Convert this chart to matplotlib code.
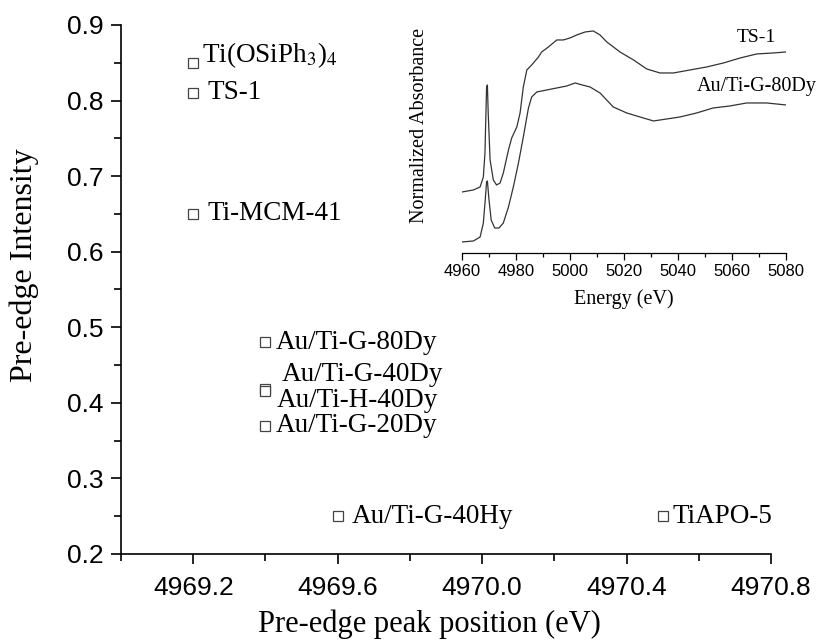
import matplotlib
matplotlib.use('Agg')
import matplotlib.pyplot as plt
from matplotlib.ticker import MultipleLocator

plt.rcParams['mathtext.fontset'] = 'stix'

# pre-edge peak position / intensity of each Ti site
samples = ['Ti(OSiPh$_3$)$_4$', 'TS-1', 'Ti-MCM-41', 'Au/Ti-G-80Dy', 'Au/Ti-G-40Dy',
           'Au/Ti-H-40Dy', 'Au/Ti-G-20Dy', 'Au/Ti-G-40Hy', 'TiAPO-5']
peak_pos = [4969.2, 4969.2, 4969.2, 4969.4, 4969.4, 4969.4, 4969.4, 4969.6, 4970.5]
intensity = [0.85, 0.81, 0.65, 0.48, 0.418, 0.415, 0.37, 0.25, 0.25]
# label offsets in pixels (dx, dy)
label_off = [(9, 8), (14, 0), (14, 0), (10, 0), (16, 15), (11, -9), (10, 0), (14, 0), (10, 0)]

# XANES spectra for the inset (arbitrary units, stacked)
ts1_e = [4960, 4964.2, 4966.7, 4967.9, 4968.5, 4969.1, 4969.4, 4969.7, 4970.4, 4971.6,
         4972.8, 4974.1, 4975.3, 4977.2, 4978.4, 4980.3, 4981.5, 4982.7, 4984, 4985.8,
         4988.3, 4989.5, 4992, 4995.1, 4997.5, 5000, 5002.5, 5005.6, 5008.6, 5011.1,
         5013.6, 5018.5, 5023.5, 5028.4, 5033.3, 5038.3, 5044.4, 5050.6, 5056.8, 5063,
         5069.1, 5075.3, 5080]
ts1_a = [0.61, 0.63, 0.66, 0.76, 1.00, 1.66, 1.68, 1.40, 0.93, 0.73,
         0.68, 0.70, 0.80, 1.03, 1.15, 1.26, 1.40, 1.66, 1.83, 1.88,
         1.96, 2.01, 2.06, 2.13, 2.13, 2.15, 2.18, 2.21, 2.22, 2.18,
         2.11, 2.01, 1.93, 1.84, 1.80, 1.80, 1.83, 1.86, 1.90, 1.95,
         1.99, 2.00, 2.01]
au_e = [4960, 4964.2, 4966.7, 4967.9, 4968.6, 4969.1, 4969.4, 4970.0, 4970.8, 4972.1,
        4973.7, 4975.3, 4977.2, 4979, 4980.9, 4982.7, 4984.6, 4985.8, 4987.7, 4991.4,
        4995.1, 4998.8, 5001.9, 5004.5, 5007.4, 5011.1, 5016, 5021, 5025.9, 5030.9,
        5035.8, 5040.7, 5046.9, 5053, 5059.2, 5065.4, 5072.8, 5080]
au_a = [0.11, 0.12, 0.16, 0.30, 0.53, 0.71, 0.72, 0.53, 0.33, 0.25,
        0.25, 0.30, 0.46, 0.66, 0.90, 1.16, 1.45, 1.56, 1.61, 1.63,
        1.65, 1.67, 1.70, 1.68, 1.66, 1.60, 1.46, 1.40, 1.36, 1.32,
        1.34, 1.36, 1.40, 1.45, 1.47, 1.50, 1.50, 1.48]

fig = plt.figure(figsize=(8.18, 6.40), dpi=100)
ax = fig.add_axes([0.148, 0.1344, 0.7945, 0.8266])

ax.plot(peak_pos, intensity, ls='none', marker='s', ms=7, mfc='white',
        mec='#444444', mew=0.9)
for name, x, y, (dx, dy) in zip(samples, peak_pos, intensity, label_off):
    ax.annotate(name, (x, y), xytext=(dx, dy), textcoords='offset pixels',
                ha='left', va='center', fontsize=19.5, family='Liberation Serif')

ax.set_xlim(4969.0, 4970.8)
ax.set_ylim(0.2, 0.9)
ax.set_xticks([4969.2, 4969.6, 4970.0, 4970.4, 4970.8])
ax.set_xticklabels(['4969.2', '4969.6', '4970.0', '4970.4', '4970.8'])
ax.xaxis.set_minor_locator(MultipleLocator(0.2))
ax.yaxis.set_major_locator(MultipleLocator(0.1))
ax.yaxis.set_minor_locator(MultipleLocator(0.05))
for s in ['top', 'right']:
    ax.spines[s].set_visible(False)
for s in ['left', 'bottom']:
    ax.spines[s].set_linewidth(1.2)
ax.tick_params(which='major', direction='out', length=7.5, width=1.2,
               labelsize=19)
ax.tick_params(which='minor', direction='out', length=5, width=1.2)
ax.tick_params(axis='x', which='major', pad=8)
ax.tick_params(axis='y', which='major', pad=5)
for lab in ax.get_xticklabels() + ax.get_yticklabels():
    lab.set_family('Liberation Sans')
ax.set_xlabel('Pre-edge peak position (eV)', fontsize=22,
              family='Liberation Serif')
ax.set_ylabel('Pre-edge Intensity', fontsize=23, family='Liberation Serif')
ax.xaxis.set_label_coords(0.475, -0.105)
ax.yaxis.set_label_coords(-0.126, 0.546)

# inset: normalised Ti K-edge spectra
ins = fig.add_axes([0.5648, 0.6047, 0.3962, 0.3563])
ins.plot(ts1_e, ts1_a, color='#333333', lw=0.9)
ins.plot(au_e, au_a, color='#333333', lw=0.9)
ins.set_xlim(4960, 5080)
ins.set_ylim(0, 2.28)
ins.xaxis.set_major_locator(MultipleLocator(20))
ins.xaxis.set_minor_locator(MultipleLocator(10))
for s in ['top', 'right', 'left']:
    ins.spines[s].set_visible(False)
ins.spines['bottom'].set_linewidth(0.9)
ins.set_yticks([])
ins.tick_params(which='major', direction='out', length=5, width=0.9,
                labelsize=12, pad=3)
ins.tick_params(which='minor', direction='out', length=3, width=0.9)
for lab in ins.get_xticklabels():
    lab.set_family('Liberation Sans')
ins.set_xlabel('Energy (eV)', fontsize=14.5, family='Liberation Serif',
               labelpad=7)
ins.set_ylabel('Normalized Absorbance', fontsize=14.5, family='Liberation Serif')
ins.yaxis.set_label_coords(-0.103, 0.56)
ins.text(5076.3, 2.15, 'TS-1', ha='right', va='center', fontsize=14,
         family='Liberation Serif')
ins.text(5091.5, 1.66, 'Au/Ti-G-80Dy', ha='right', va='center', fontsize=14.5,
         family='Liberation Serif', clip_on=False)

fig.savefig('out.png', dpi=100)
